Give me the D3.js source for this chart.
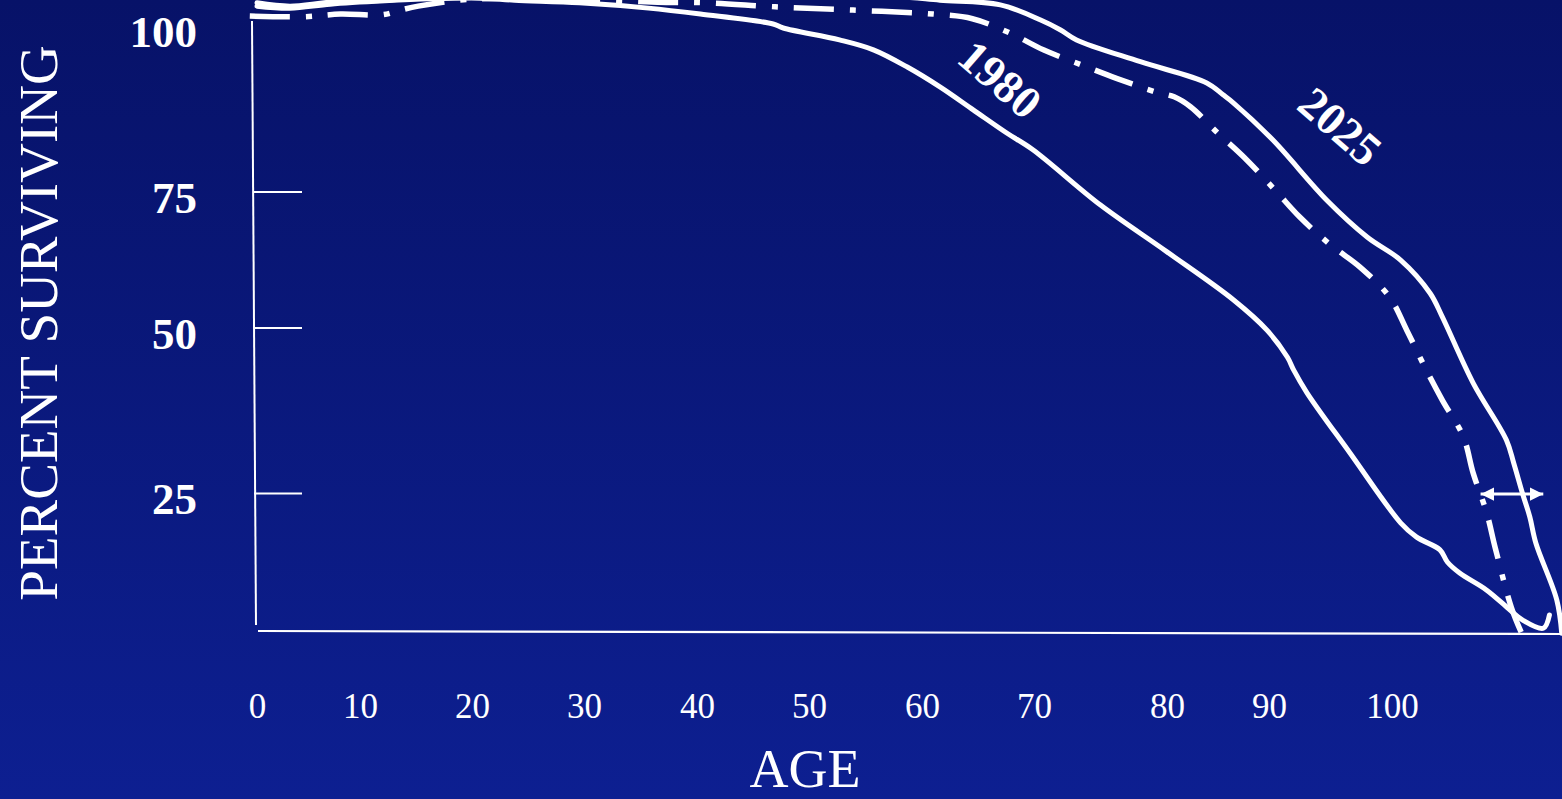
<!DOCTYPE html>
<html>
<head>
<meta charset="utf-8">
<script src="https://cdn.jsdelivr.net/npm/d3@7"></script>
<style>
  html, body { margin: 0; padding: 0; background: #0a1a80; }
  svg { display: block; }
</style>
</head>
<body>
<script>
// ---------------- DATA ----------------
const xTickValues = [0, 10, 20, 30, 40, 50, 60, 70, 80, 90, 100];
const yTickValues = [25, 50, 75, 100];
const xTitle = "AGE";
const yTitle = "PERCENT SURVIVING";

// survival curve 1980 (solid) : [age, percent]
const curve1980 = [
  [0, 103.0], [3.2, 102.7], [7.1, 103.3], [12.2, 103.8], [16.3, 104.1], [20.7, 104.2],
  [23.8, 103.9], [29.6, 103.5], [35.7, 102.7], [40.3, 101.8], [46.8, 100.3], [47.7, 99.7],
  [52.7, 97.9], [55.7, 96.4], [58.7, 93.8], [61.6, 90.8], [64.6, 87.3], [67.6, 83.8],
  [69.9, 81.3], [75.0, 72.5], [80.0, 63.9], [86.5, 55.1], [89.8, 49.6], [91.5, 45.5],
  [92.0, 43.6], [93.1, 40.1], [96.6, 31.0], [100.7, 19.6], [102.0, 17.0], [103.9, 14.7],
  [104.5, 12.5], [105.5, 10.5], [107.7, 7.4], [109.6, 3.8], [110.6, 2.0], [112.3, 0.5],
  [112.8, 2.9]
];

// survival curve 2025 (solid) : [age, percent]
const curve2025 = [
  [0, 103.5], [3.2, 103.0], [7.1, 103.6], [12.2, 103.9], [18.0, 104.5], [31.4, 105.2],
  [49.2, 104.8], [58.1, 104.4], [61.6, 103.9], [67.0, 103.2], [70.5, 100.9], [72.0, 99.4],
  [73.2, 97.9], [78.0, 94.6], [83.9, 91.4], [85.5, 89.6], [86.5, 88.4], [90.3, 82.8],
  [94.7, 73.4], [98.0, 66.6], [100.7, 62.4], [103.1, 56.3], [104.1, 51.9], [106.6, 41.6],
  [109.3, 33.0], [109.9, 29.5], [110.6, 25.0], [111.2, 20.7], [111.7, 15.9], [113.4, 5.6],
  [113.8, -0.4]
];

// intermediate curve (dash-dot) : [age, percent]
const curveDashDot = [
  [-0.7, 101.5], [4.5, 101.4], [8.1, 101.8], [12.0, 101.7], [13.6, 102.4], [15.2, 103.0],
  [18.9, 103.9], [22.5, 104.2], [31.4, 103.9], [36.5, 103.6], [40.9, 103.5], [47.0, 102.9],
  [53.9, 102.4], [61.0, 101.8], [64.5, 101.1], [67.9, 98.9], [70.7, 96.4], [73.6, 94.1],
  [76.2, 92.1], [79.2, 90.0], [80.7, 89.3], [82.3, 87.8], [85.0, 83.8], [87.6, 80.1],
  [90.5, 75.2], [92.5, 70.3], [95.0, 65.2], [97.4, 61.1], [99.8, 55.6], [101.2, 49.6],
  [102.7, 43.9], [104.1, 39.0], [105.8, 33.5], [106.6, 28.0], [107.7, 21.4], [108.4, 15.0],
  [109.7, 4.3], [110.5, -0.2]
];

// curve labels: [text, age, percent]
const curveLabels = [
  ["1980", 67.0, 92.0],
  ["2025", 95.8, 84.9]
];

// double arrow between the dash-dot and 2025 curves at 25 %
const arrowAges = [107.2, 112.3];
const arrowPercent = 24.8;

// ---------------- CHART ----------------
const W = 1562, H = 799;
const svg = d3.select("body").append("svg").attr("width", W).attr("height", H);

const defs = svg.append("defs");
const grad = defs.append("linearGradient").attr("id", "bg")
  .attr("x1", 0).attr("y1", 0).attr("x2", 0).attr("y2", 1);
grad.append("stop").attr("offset", "0%").attr("stop-color", "#071268");
grad.append("stop").attr("offset", "100%").attr("stop-color", "#0d1f91");
svg.append("rect").attr("width", W).attr("height", H).attr("fill", "url(#bg)");

const mk = defs.append("marker").attr("id", "ah").attr("viewBox", "0 0 10 10")
  .attr("refX", 10).attr("refY", 5).attr("markerWidth", 4.5).attr("markerHeight", 5)
  .attr("orient", "auto-start-reverse").attr("markerUnits", "strokeWidth");
mk.append("path").attr("d", "M0,0 L10,5 L0,10 Z").attr("fill", "#fff");

// hand-drawn slide: tick labels are not evenly spaced -> piecewise scales
const x = d3.scaleLinear()
  .domain(xTickValues)
  .range([257, 360, 472, 584, 697, 809, 922, 1034, 1167, 1269, 1392]);
const y = d3.scaleLinear()
  .domain([0, 25, 50, 75, 100])
  .range([631, 493, 327.5, 191.5, 26]);

const serif = "'Liberation Serif', 'Times New Roman', serif";

// baseline and vertical axis line
svg.append("line")
  .attr("x1", x(0) + 1).attr("y1", y(0)).attr("x2", W).attr("y2", y(0) + 3)
  .attr("stroke", "#fff").attr("stroke-width", 2.2);
svg.append("line")
  .attr("x1", x(0) - 5).attr("y1", y(100) - 5).attr("x2", x(0) - 1).attr("y2", y(0) - 6)
  .attr("stroke", "#fff").attr("stroke-width", 2);

// y axis (ticks point right into the plot, labels far left)
const yAxis = d3.axisLeft(y).tickValues(yTickValues).tickSize(-48).tickPadding(57)
  .tickFormat(d3.format("d"));
const gy = svg.append("g").attr("transform", `translate(${x(0) - 3},0)`).call(yAxis);
gy.select(".domain").remove();
gy.selectAll(".tick line").attr("stroke", "#fff").attr("stroke-width", 2)
  .attr("opacity", d => d === 100 ? 0 : 1);
gy.selectAll(".tick text")
  .attr("fill", "#fff").attr("font-family", serif).attr("font-size", 45)
  .attr("font-weight", "bold").attr("dy", "0.46em");

// x axis labels only
const xAxis = d3.axisBottom(x).tickValues(xTickValues).tickSize(0).tickPadding(62)
  .tickFormat(d3.format("d"));
const gx = svg.append("g").attr("transform", `translate(0,${y(0)})`).call(xAxis);
gx.select(".domain").remove();
gx.selectAll(".tick text")
  .attr("fill", "#fff").attr("font-family", serif).attr("font-size", 35);

// axis titles
svg.append("text").attr("x", 805).attr("y", 787)
  .attr("text-anchor", "middle").attr("fill", "#fff")
  .attr("font-family", serif).attr("font-size", 54).text(xTitle);
svg.append("text").attr("transform", "translate(57,323) rotate(-90)")
  .attr("text-anchor", "middle").attr("fill", "#fff")
  .attr("font-family", serif).attr("font-size", 55).text(yTitle);

// curves
const line = d3.line().x(d => x(d[0])).y(d => y(d[1])).curve(d3.curveCatmullRom.alpha(0.5));

svg.append("path").datum(curveDashDot).attr("d", line)
  .attr("fill", "none").attr("stroke", "#fff").attr("stroke-width", 5.5)
  .attr("stroke-dasharray", "40,16,6,16").attr("stroke-linecap", "butt");
svg.append("path").datum(curve1980).attr("d", line)
  .attr("fill", "none").attr("stroke", "#fff").attr("stroke-width", 5)
  .attr("stroke-linejoin", "round").attr("stroke-linecap", "round");
svg.append("path").datum(curve2025).attr("d", line)
  .attr("fill", "none").attr("stroke", "#fff").attr("stroke-width", 5)
  .attr("stroke-linejoin", "round").attr("stroke-linecap", "round");

// double arrow
svg.append("line")
  .attr("x1", x(arrowAges[0])).attr("y1", y(arrowPercent))
  .attr("x2", x(arrowAges[1])).attr("y2", y(arrowPercent))
  .attr("stroke", "#fff").attr("stroke-width", 3)
  .attr("marker-start", "url(#ah)").attr("marker-end", "url(#ah)");

// curve labels
svg.selectAll("text.clabel").data(curveLabels).join("text")
  .attr("class", "clabel")
  .attr("transform", d => `translate(${x(d[1])},${y(d[2])}) rotate(41)`)
  .attr("text-anchor", "middle").attr("dy", "0.35em")
  .attr("fill", "#fff").attr("font-family", serif).attr("font-size", 46)
  .attr("font-weight", "bold").text(d => d[0]);
</script>
</body>
</html>
